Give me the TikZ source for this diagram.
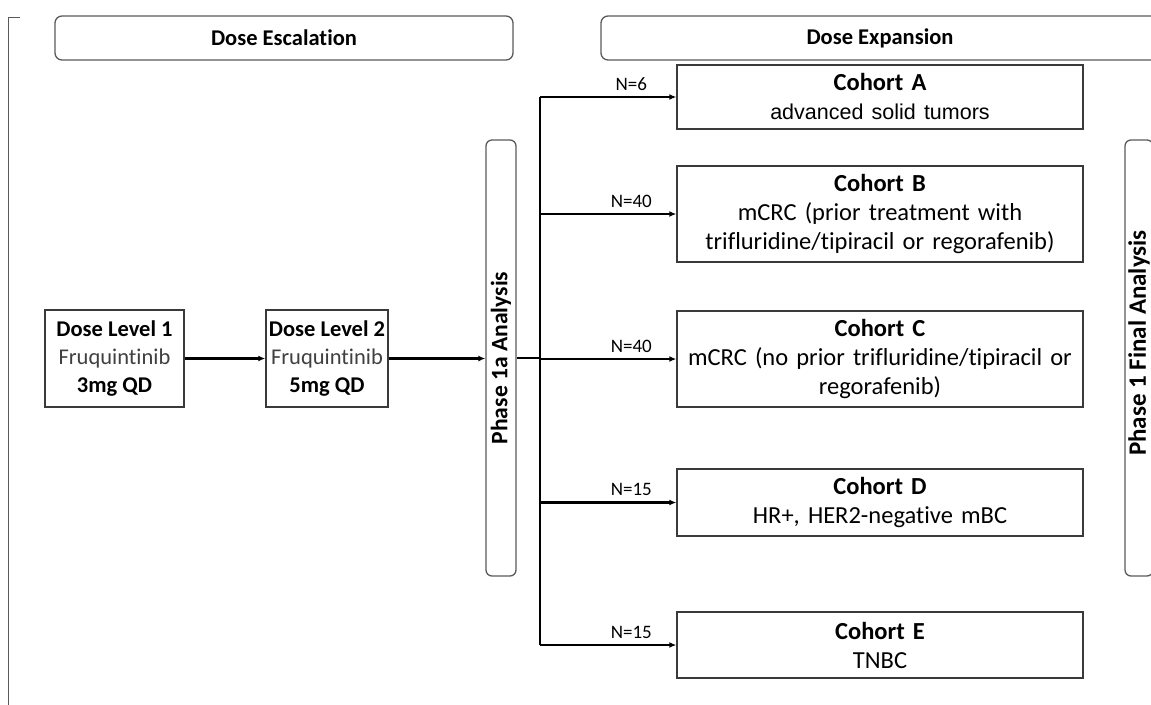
\documentclass[tikz,border=0pt]{standalone}
\usepackage{fontspec}
\setmainfont{Carlito}[Ligatures=NoCommon]
\newfontfamily\arialfont{Liberation Sans}
\usepackage{tikz}
\usetikzlibrary{positioning, arrows.meta, calc}
\definecolor{boxline}{HTML}{3A3A3A}
\definecolor{roundline}{HTML}{5A5A5A}
\definecolor{softtext}{HTML}{404040}
\tikzset{
	headbox/.style={draw=roundline, line width=1.3pt, rounded corners=7pt, minimum height=44pt,
		font=\fontsize{22.5}{26}\selectfont\bfseries}
}
\tikzset{
	dosebox/.style={draw=boxline, line width=1.4pt, align=center, minimum height=97pt,
		inner sep=2pt, font=\fontsize{22.5}{28}\selectfont}
}
\tikzset{
	cohortbox/.style={draw=boxline, line width=1.4pt, align=center, minimum width=406pt,
		text width=398pt, inner sep=0pt, font=\fontsize{24.5}{29}\selectfont}
}
\tikzset{
	phasebox/.style={draw=roundline, line width=1.3pt, rounded corners=6pt, rotate=90,
		minimum width=436pt, inner sep=0pt}
}
\tikzset{
	ntext/.style={font=\fontsize{19}{21}\selectfont}
}
\tikzset{
	flow/.style={line width=2.2pt, -{Latex[length=7pt,width=6pt]}}
}
\newcommand{\ctitle}[1]{\textbf{#1}}

\begin{document}
\begin{tikzpicture}[x=1pt, y=-1pt]
      \useasboundingbox (0,0) rectangle (1151,704);
      \clip (0,0) rectangle (1151,704);
      \draw[line width=1pt, roundline] (20,17) -- (8,17) -- (8,710);
      % stage headers
      \node[headbox, minimum width=458pt] (hesc) at (284,38) {Dose Escalation};
      \node[headbox, minimum width=558pt] (hexp) at (880,38) {Dose Expansion};
      % escalation
      \node[dosebox, minimum width=139pt] (dl1) at (114.5,358.5)
        {\textbf{Dose Level 1}\\{\color{softtext}Fruquintinib}\\\textbf{3mg QD}};
      \node[dosebox, minimum width=122pt] (dl2) at (327,358.5)
        {\textbf{Dose Level 2}\\{\color{softtext}Fruquintinib}\\\textbf{5mg QD}};
      \node[phasebox, minimum height=30pt, font=\fontsize{23.6}{26}\selectfont\bfseries] (pa)
        at (501,358) {Phase 1a Analysis};
      \node[phasebox, minimum height=28pt, font=\fontsize{25}{28}\selectfont\bfseries] (pf)
        at (1139,358) {\hspace*{30pt}Phase 1 Final Analysis};
      \draw[flow] (dl1.east) -- (dl2.west);
      \draw[flow] (dl2.east) -- (dl2.east -| pa.north);
      % cohorts
      \node[cohortbox, minimum height=64pt] (ca) at (880,97)
        {\ctitle{Cohort A}\\{\arialfont\fontsize{21.5}{27}\selectfont advanced solid tumors}};
      \node[cohortbox, minimum height=96pt] (cb) at (880,214)
        {\ctitle{Cohort B}\\mCRC (prior treatment with\\trifluridine/tipiracil or regorafenib)};
      \node[cohortbox, minimum height=96pt] (cc) at (880,359)
        {\ctitle{Cohort C}\\mCRC (no prior trifluridine/tipiracil or\\regorafenib)};
      \node[cohortbox, minimum height=67pt] (cd) at (880,502.5)
        {\ctitle{Cohort D}\\HR+, HER2-negative mBC};
      \node[cohortbox, minimum height=66pt] (ce) at (880,645)
        {\ctitle{Cohort E}\\TNBC};
      \coordinate (split) at (540,358);
      \draw[line width=2.8pt] (pa.south |- split) -- (split);
      \draw[line width=2.6pt] (split |- ca.west) -- (split |- ce.west);
      \foreach \c/\n in {ca/6, cb/40, cc/40, cd/15, ce/15} {
        \draw[flow] (split |- \c.west) -- (\c.west);
        \node[ntext, above=3pt] (n\c) at ($(split |- \c.west)!0.67!(\c.west)$) {N=\n};
      }
    \end{tikzpicture}
\end{document}
